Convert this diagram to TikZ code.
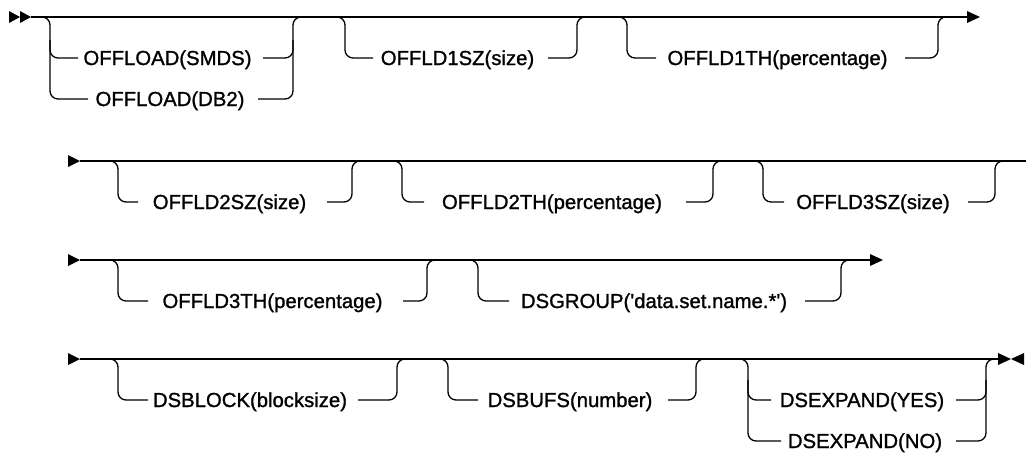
\documentclass[tikz,border=0pt]{standalone}
\usepackage{fontspec}
\setmainfont{Liberation Sans}
\newfontfamily\railfont{Liberation Sans}[RawFeature={embolden=1.2}]
\tikzset{
  rail/.style={line width=1.3pt, rounded corners=8pt},
  lbl/.style={font=\railfont\fontsize{20.3}{24}\selectfont, inner sep=0pt, anchor=base},
  head/.style={fill=black},
}
\begin{document}
\begin{tikzpicture}[x=1pt,y=-1pt]
\useasboundingbox (0,0) rectangle (1026,456);
% ---------------- Row 1 ----------------
\fill[head] (9,11) -- (20,17) -- (9,23) -- cycle;
\fill[head] (20,11) -- (31,17) -- (20,23) -- cycle;
\coordinate (r1s) at (31,17);
\coordinate (r1e) at (967,17);
\draw[rail] (r1s) -- (r1e);
\fill[head] (967,11) -- (980,17) -- (967,23) -- cycle;
% group A
\node[lbl] (smds) at (167.5,65) {OFFLOAD(SMDS)};
\node[lbl] (db2) at (170,106) {OFFLOAD(DB2)};
\draw[rail] (40,17) -- (50,17) -- (50,99) -- (88,99);
\draw[rail] (50,40) -- (50,58) -- (78,58);
\draw[rail] (258,99) -- (293,99) -- (293,17) -- (303,17);
\draw[rail] (263,58) -- (293,58) -- (293,40);
% group B
\node[lbl] (o1sz) at (457.5,65) {OFFLD1SZ(size)};
\draw[rail] (335,17) -- (345,17) -- (345,58) -- (373,58);
\draw[rail] (548,58) -- (577,58) -- (577,17) -- (587,17);
% group C
\node[lbl] (o1th) at (777.5,65) {OFFLD1TH(percentage)};
\draw[rail] (617,17) -- (627,17) -- (627,58) -- (656,58);
\draw[rail] (905,58) -- (938,58) -- (938,17) -- (948,17);
% ---------------- Row 2 ----------------
\fill[head] (68,155) -- (80,161) -- (68,167) -- cycle;
\draw[rail] (80,161) -- (1026,161);
\node[lbl] (o2sz) at (229.5,209) {OFFLD2SZ(size)};
\draw[rail] (108,161) -- (118,161) -- (118,202) -- (138,202);
\draw[rail] (327,202) -- (352,202) -- (352,161) -- (362,161);
\node[lbl] (o2th) at (552,209) {OFFLD2TH(percentage)};
\draw[rail] (392,161) -- (402,161) -- (402,202) -- (424,202);
\draw[rail] (686,202) -- (713,202) -- (713,161) -- (723,161);
\node[lbl] (o3sz) at (873,209) {OFFLD3SZ(size)};
\draw[rail] (753,161) -- (763,161) -- (763,202) -- (784,202);
\draw[rail] (968,202) -- (995,202) -- (995,161) -- (1005,161);
% ---------------- Row 3 ----------------
\fill[head] (68,254) -- (80,260) -- (68,266) -- cycle;
\draw[rail] (80,260) -- (870,260);
\fill[head] (870,254) -- (883,260) -- (870,266) -- cycle;
\node[lbl] (o3th) at (272.5,308) {OFFLD3TH(percentage)};
\draw[rail] (108,260) -- (118,260) -- (118,301) -- (148,301);
\draw[rail] (403,301) -- (427,301) -- (427,260) -- (437,260);
\node[lbl] (dsg) at (654,308) {DSGROUP(\textquotesingle data.set.name.*\textquotesingle)};
\draw[rail] (468,260) -- (478,260) -- (478,301) -- (509,301);
\draw[rail] (805,301) -- (841,301) -- (841,260) -- (851,260);
% ---------------- Row 4 ----------------
\fill[head] (68,353) -- (80,359) -- (68,365) -- cycle;
\draw[rail] (80,359) -- (998,359);
\node[lbl] (dsbl) at (250,407) {DSBLOCK(blocksize)};
\draw[rail] (108,359) -- (118,359) -- (118,400) -- (148,400);
\draw[rail] (358,400) -- (397,400) -- (397,359) -- (407,359);
\node[lbl] (dsbu) at (570,407) {DSBUFS(number)};
\draw[rail] (438,359) -- (448,359) -- (448,400) -- (478,400);
\draw[rail] (668,400) -- (696,400) -- (696,359) -- (706,359);
\node[lbl] (yes) at (862,407) {DSEXPAND(YES)};
\node[lbl] (no) at (865,448) {DSEXPAND(NO)};
\draw[rail] (738,359) -- (748,359) -- (748,441) -- (781,441);
\draw[rail] (748,380) -- (748,400) -- (771,400);
\draw[rail] (956,441) -- (986,441) -- (986,359) -- (996,359);
\draw[rail] (956,400) -- (986,400) -- (986,380);
\fill[head] (998,353) -- (1011,359) -- (998,365) -- cycle;
\fill[head] (1024,353) -- (1011,359) -- (1024,365) -- cycle;
\end{tikzpicture}
\end{document}
